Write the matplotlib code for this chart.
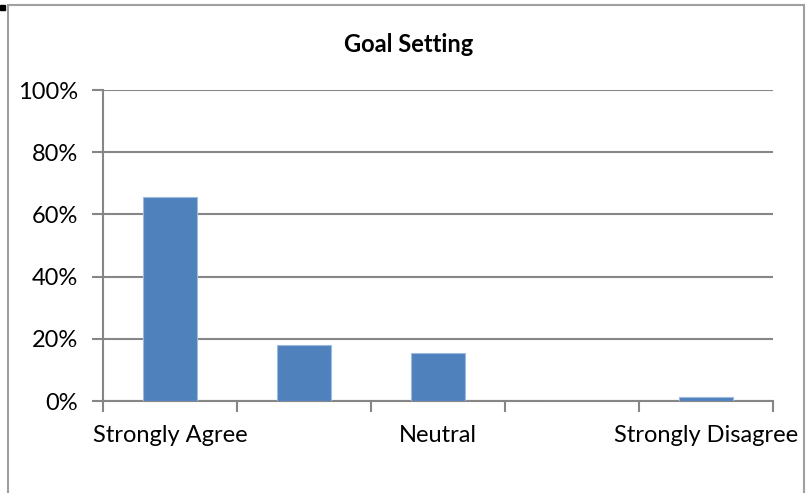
import matplotlib.pyplot as plt
from matplotlib.patches import Rectangle

# data
categories = ['Strongly Agree', 'Agree', 'Neutral', 'Disagree', 'Strongly Disagree']
shown_labels = ['Strongly Agree', '', 'Neutral', '', 'Strongly Disagree']
values = [0.655, 0.18, 0.154, 0.0, 0.013]
yticks = [0, 0.2, 0.4, 0.6, 0.8, 1.0]
ytick_labels = ['0%', '20%', '40%', '60%', '80%', '100%']

plt.rcParams['font.family'] = ['Lato', 'DejaVu Sans']
grid_col = '#868686'

fig = plt.figure(figsize=(8.08, 4.93), dpi=100)
ax = fig.add_axes([0.1275, 0.1866, 0.829, 0.6308])

x = list(range(len(categories)))
ax.bar(x, values, width=0.4, color='#4f81bd', edgecolor='#9dbbe0', linewidth=0.8, zorder=3)

ax.set_xlim(-0.5, len(categories) - 0.5)
ax.set_ylim(0, 1.0)
ax.set_yticks(yticks)
ax.set_yticklabels(ytick_labels, fontsize=17)
ax.yaxis.grid(True, color=grid_col, linewidth=1.5, zorder=0)

# category boundaries as major ticks, labels at centres
ax.set_xticks([i - 0.5 for i in range(len(categories) + 1)])
ax.set_xticklabels([])
ax.set_xticks(x, minor=True)
ax.set_xticklabels(shown_labels, minor=True, fontsize=17)
ax.tick_params(axis='x', which='minor', length=0, pad=17)
ax.tick_params(axis='x', which='major', length=8, width=1.5, color=grid_col)
ax.tick_params(axis='y', length=8, width=1.5, color=grid_col, pad=10)

for s in ['top', 'right']:
    ax.spines[s].set_visible(False)
for s in ['left', 'bottom']:
    ax.spines[s].set_color(grid_col)
    ax.spines[s].set_linewidth(1.5)

fig.text(0.506, 0.91, 'Goal Setting', ha='center', va='center', fontsize=17, fontweight='bold')

# chart frame
fig.patches.append(Rectangle((8 / 808, -0.01), 796 / 808, 1 - 5 / 493 + 0.01,
                             transform=fig.transFigure, fill=False,
                             edgecolor='#a0a0a0', linewidth=1.5))
fig.patches.append(Rectangle((0, 1 - 10 / 493), 5 / 808, 5 / 493,
                             transform=fig.transFigure, color='black'))

fig.savefig('out.png', dpi=100)
